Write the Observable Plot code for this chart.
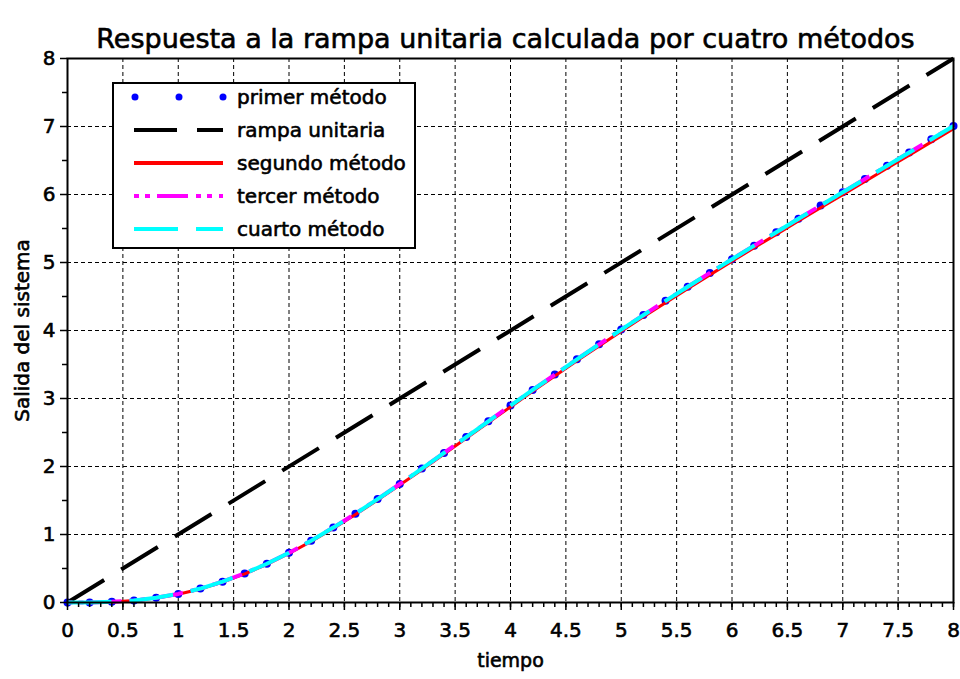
<!DOCTYPE html>
<html>
<head>
<meta charset="utf-8">
<script src="https://cdn.jsdelivr.net/npm/d3@7"></script>
<script src="https://cdn.jsdelivr.net/npm/@observablehq/plot@0.6"></script>
<style>
  html, body { margin: 0; padding: 0; background: #ffffff; }
  #chart { position: relative; width: 960px; height: 679px; }
  #leyenda { position: absolute; left: 112px; top: 82px; }
  /* slightly heavier lettering */
  #chart text { stroke: #000000; stroke-width: 0.6px; stroke-linejoin: round; }
</style>
</head>
<body>
<div id="chart"></div>
<script>
// Textos
const titulo = "Respuesta a la rampa unitaria calculada por cuatro métodos";
const etiquetaX = "tiempo";
const etiquetaY = "Salida del sistema";

// Instantes de muestreo (s)
const tiempo = [0, 0.2, 0.4, 0.6, 0.8, 1.0, 1.2, 1.4, 1.6, 1.8, 2.0, 2.2, 2.4, 2.6, 2.8, 3.0,
  3.2, 3.4, 3.6, 3.8, 4.0, 4.2, 4.4, 4.6, 4.8, 5.0, 5.2, 5.4, 5.6, 5.8, 6.0,
  6.2, 6.4, 6.6, 6.8, 7.0, 7.2, 7.4, 7.6, 7.8, 8.0];

// Salida del sistema según cada método
const primerMetodo = [0, 0.0013, 0.0096, 0.0307, 0.0686, 0.1262, 0.2050, 0.3057, 0.4277, 0.5701,
  0.7313, 0.9092, 1.1016, 1.3062, 1.5205, 1.7424, 1.9696, 2.2002, 2.4325, 2.6649,
  2.8964, 3.1259, 3.3527, 3.5764, 3.7967, 4.0134, 4.2265, 4.4364, 4.6431, 4.8471,
  5.0486, 5.2481, 5.4460, 5.6425, 5.8382, 6.0333, 6.2280, 6.4227, 6.6176, 6.8127, 7.0083];

const segundoMetodo = [0, 0.0003, 0.0076, 0.0277, 0.0646, 0.1212, 0.1990, 0.2987, 0.4197, 0.5611,
  0.7213, 0.8982, 1.0896, 1.2932, 1.5065, 1.7274, 1.9536, 2.1832, 2.4145, 2.6459,
  2.8764, 3.1049, 3.3307, 3.5534, 3.7727, 3.9884, 4.2005, 4.4094, 4.6151, 4.8181,
  5.0186, 5.2171, 5.4140, 5.6095, 5.8042, 5.9983, 6.1920, 6.3857, 6.5796, 6.7737, 6.9683];

const tercerMetodo = [0, 0.0013, 0.0096, 0.0307, 0.0686, 0.1262, 0.2050, 0.3057, 0.4277, 0.5701,
  0.7313, 0.9092, 1.1016, 1.3062, 1.5205, 1.7424, 1.9696, 2.2002, 2.4325, 2.6649,
  2.8964, 3.1259, 3.3527, 3.5764, 3.7967, 4.0134, 4.2265, 4.4364, 4.6431, 4.8471,
  5.0486, 5.2481, 5.4460, 5.6425, 5.8382, 6.0333, 6.2280, 6.4227, 6.6176, 6.8127, 7.0083];

const cuartoMetodo = [0, 0.0013, 0.0096, 0.0307, 0.0686, 0.1262, 0.2050, 0.3057, 0.4277, 0.5701,
  0.7313, 0.9092, 1.1016, 1.3062, 1.5205, 1.7424, 1.9696, 2.2002, 2.4325, 2.6649,
  2.8964, 3.1259, 3.3527, 3.5764, 3.7967, 4.0134, 4.2265, 4.4364, 4.6431, 4.8471,
  5.0486, 5.2481, 5.4460, 5.6425, 5.8382, 6.0333, 6.2280, 6.4227, 6.6176, 6.8127, 7.0083];

// Rampa unitaria de entrada
const rampaTiempo = [0, 8];
const rampaUnitaria = [0, 8];

// Marcas de los ejes
const xTicks = [0, 0.5, 1, 1.5, 2, 2.5, 3, 3.5, 4, 4.5, 5, 5.5, 6, 6.5, 7, 7.5, 8];
const yTicks = [0, 1, 2, 3, 4, 5, 6, 7, 8];
const xGrid = [0.5, 1, 1.5, 2, 2.5, 3, 3.5, 4, 4.5, 5, 5.5, 6, 6.5, 7, 7.5];
const yGrid = [1, 2, 3, 4, 5, 6, 7];
const xMinor = d3.range(0, 81).map(i => i / 10);
const yMinor = [0.5, 1.5, 2.5, 3.5, 4.5, 5.5, 6.5, 7.5];

// Estilo de cada serie (orden de la leyenda)
const series = [
  { nombre: "primer método",  color: "#0000ff", punto: true },
  { nombre: "rampa unitaria", color: "#000000", ancho: 4, trazo: "43,20" },
  { nombre: "segundo método", color: "#ff0000", ancho: 3, trazo: null },
  { nombre: "tercer método",  color: "#ff00ff", ancho: 4, trazo: "5,6,5,7,31,8" },
  { nombre: "cuarto método",  color: "#00ffff", ancho: 4, trazo: "44,18" }
];

const filas = tiempo.map((t, i) => ({
  t,
  primer: primerMetodo[i],
  segundo: segundoMetodo[i],
  tercer: tercerMetodo[i],
  cuarto: cuartoMetodo[i]
}));
const rampa = rampaTiempo.map((t, i) => ({ t, y: rampaUnitaria[i] }));

const fuente = "DejaVu Sans";
const gridStyle = { stroke: "black", strokeOpacity: 1, strokeWidth: 1, strokeDasharray: "4,3" };
const lineStyle = s => ({
  stroke: s.color, strokeWidth: s.ancho, strokeDasharray: s.trazo ?? undefined,
  strokeLinecap: "butt", strokeLinejoin: "round"
});

const chart = Plot.plot({
  width: 960,
  height: 679,
  marginTop: 58,
  marginBottom: 77,
  marginLeft: 67,
  marginRight: 7,
  style: { fontFamily: fuente, background: "white", color: "black" },
  x: { domain: [0, 8], label: null },
  y: { domain: [0, 8], label: null },
  marks: [
    Plot.gridX(xGrid, gridStyle),
    Plot.gridY(yGrid, gridStyle),
    Plot.dot(filas, { x: "t", y: "primer", r: 4, fill: series[0].color, stroke: null }),
    Plot.line(rampa, { x: "t", y: "y", ...lineStyle(series[1]) }),
    Plot.line(filas, { x: "t", y: "segundo", ...lineStyle(series[2]) }),
    Plot.line(filas, { x: "t", y: "tercer", ...lineStyle(series[3]) }),
    Plot.line(filas, { x: "t", y: "cuarto", ...lineStyle(series[4]) }),
    Plot.frame({ stroke: "black", strokeWidth: 2 }),
    Plot.axisX(xMinor, { tickSize: 5, strokeWidth: 1.5, tickFormat: () => "", label: null }),
    Plot.axisX(xTicks, { tickSize: 8, tickPadding: 12, strokeWidth: 1.5, fontSize: 20,
      tickFormat: d => String(d), label: null }),
    Plot.axisY(yMinor, { tickSize: 5, strokeWidth: 1.5, tickFormat: () => "", label: null }),
    Plot.axisY(yTicks, { tickSize: 7, tickPadding: 5, strokeWidth: 1.5, fontSize: 20,
      tickFormat: d => String(d), label: null }),
    Plot.text([titulo], { frameAnchor: "top", dx: -5, dy: -30, fontSize: 27 }),
    Plot.text([etiquetaX], { frameAnchor: "bottom", dy: 64, fontSize: 19 }),
    Plot.text([etiquetaY], { frameAnchor: "left", textAnchor: "middle", dx: -45, rotate: -90, fontSize: 20 })
  ]
});

document.getElementById("chart").appendChild(chart);

// Leyenda
const leg = d3.select("#chart").append("svg")
  .attr("id", "leyenda")
  .attr("width", 304)
  .attr("height", 167)
  .style("font-family", fuente);

leg.append("rect")
  .attr("x", 1).attr("y", 1).attr("width", 302).attr("height", 165)
  .attr("fill", "white").attr("stroke", "black").attr("stroke-width", 2);

series.forEach((s, i) => {
  const y = 15 + i * 33;
  if (s.punto) {
    [23, 67, 111].forEach(x => {
      leg.append("circle").attr("cx", x).attr("cy", y).attr("r", 3.5).attr("fill", s.color);
    });
  } else {
    leg.append("line")
      .attr("x1", 22).attr("x2", 111).attr("y1", y).attr("y2", y)
      .attr("stroke", s.color).attr("stroke-width", 4)
      .attr("stroke-dasharray", s.trazo)
      .attr("stroke-linecap", "butt");
  }
  leg.append("text")
    .attr("x", 125).attr("y", y).attr("dy", "0.35em")
    .attr("font-size", 20).attr("fill", "black")
    .text(s.nombre);
});
</script>
</body>
</html>
